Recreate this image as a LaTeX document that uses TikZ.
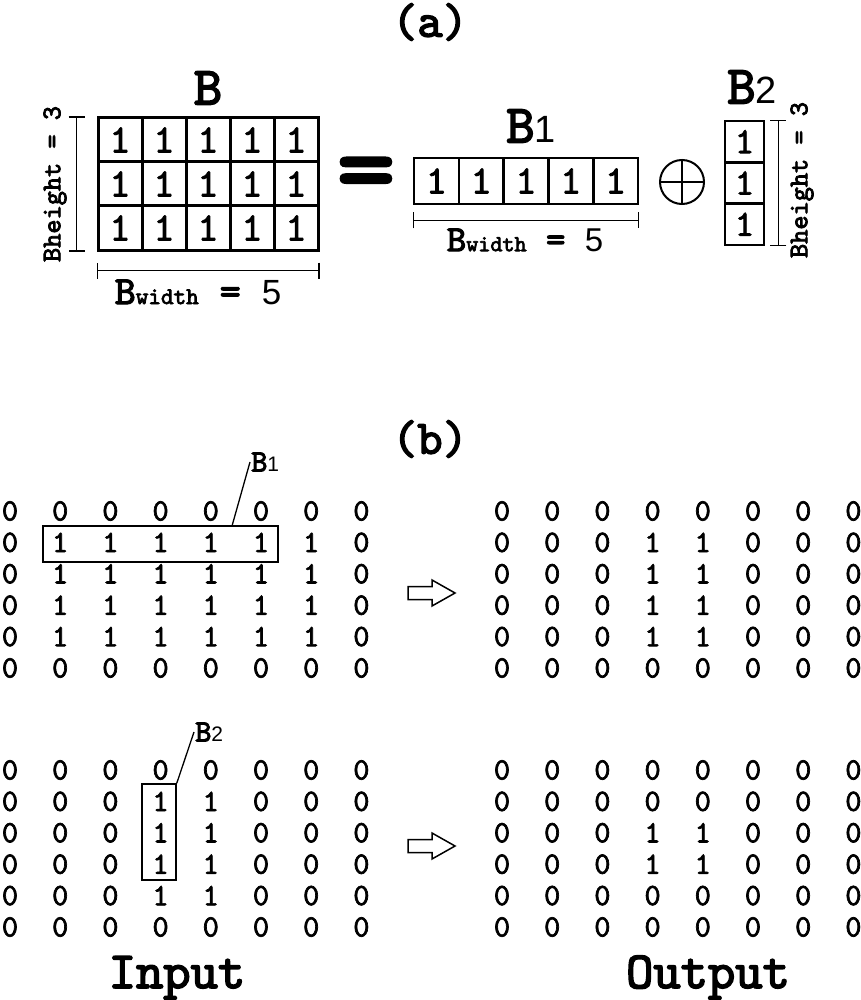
\documentclass[tikz,border=0pt]{standalone}
\usepackage{fontspec}
\setsansfont{Liberation Sans}
\newfontfamily\monob{lmmono10-regular.otf}[FakeBold=3]
\newfontfamily\monom{lmmono10-regular.otf}[FakeBold=2.2]
\usetikzlibrary{arrows.meta}

\newcommand{\fsz}[1]{\fontsize{#1}{#1}\selectfont}
% bold B with a plain digit beside it
\newcommand{\Bsub}[3]{{\monob\fsz{#1}B}{\sffamily\fsz{#2}#3}}
% B_width = 5
\newcommand{\Bwide}[4]{{\monob\fsz{#1}B}{\monob\fsz{#2}width}{\monob\fsz{#1} = }{\sffamily\fsz{#3}#4}}
% grid of bits: name, x0, y0, rows
\newcommand{\bitgrid}[4]{%
  \foreach \row [count=\rr from 0] in {#4} {
    \foreach \val [count=\cc from 0] in \row
      \node[bit] (#1-\rr-\cc) at ({#2+50.2*\cc},{#3+31.4*\rr}) {\val};
  }}

\begin{document}
\begin{tikzpicture}[x=1pt, y=-1pt,
  cellA/.style={draw, line width=3pt, inner sep=0pt, minimum width=44pt,
    minimum height=44pt, font=\monom\fsz{40}},
  bit/.style={inner sep=0pt, font=\monom\fsz{31}},
  dim/.style={line width=1.3pt, {Bar[width=16pt]}-{Bar[width=16pt]}},
  title/.style={inner sep=0pt, font=\monob\fsz{52}},
  pick/.style={draw, line width=1.5pt, inner sep=0pt},
  lead/.style={line width=1.3pt},
  hollow/.style={draw, line width=1.5pt, fill=white},
]
\useasboundingbox (0,0) rectangle (860,1000);

% (a)
\node[title, font=\monob\fsz{48}] (ta) at (430,22) {(a)};
\node[inner sep=0pt] (lB) at (208,88) {\monob\fsz{54}B};
\foreach \r in {0,1,2}
  \foreach \c in {0,...,4}
    \node[cellA] (B-\r-\c) at ({120+44*\c},{140+44*\r}) {1};
\draw[dim] ([xshift=-20pt]B-0-0.north west) -- ([xshift=-20pt]B-2-0.south west);
\node[rotate=90, inner sep=0pt, font=\monob\fsz{27}] (hB) at (55,184) {Bheight = 3};
\draw[dim] ([yshift=-19pt]B-2-0.south west) -- ([yshift=-19pt]B-2-4.south east);
\node[inner sep=0pt] (wB) at (198,292) {\Bwide{40}{24}{35}{5}};

\node[inner sep=0pt, font=\monob\fsz{110}] (eq) at (366,181) {=};

\node[inner sep=0pt] (lB1) at (531,126) {\Bsub{54}{38}{1}};
\foreach \c in {0,...,4}
  \node[cellA, line width=2.6pt, minimum width=44.8pt, minimum height=46pt] (B1-\c) at ({436.4+44.8*\c},181) {1};
\draw[dim] ([yshift=-15pt]B1-0.south west) -- ([yshift=-15pt]B1-4.south east);
\node[inner sep=0pt] (wB1) at (525,240) {\Bwide{37}{23}{33}{5}};

\node[draw, circle, line width=2pt, minimum size=44pt, inner sep=0pt] (plus) at (682,182) {};
\draw[line width=2pt] (plus.north) -- (plus.south);
\draw[line width=2pt] (plus.west) -- (plus.east);

\node[inner sep=0pt] (lB2) at (752,87) {\Bsub{54}{38}{2}};
\foreach \r in {0,1,2}
  \node[cellA, line width=2.6pt, minimum width=39pt, minimum height=41.3pt, font=\monom\fsz{37}] (B2-\r) at (744.5,{141.7+41.3*\r}) {1};
\draw[dim] ([xshift=13pt]B2-0.north east) -- ([xshift=13pt]B2-2.south east);
\node[rotate=90, inner sep=0pt, font=\monob\fsz{27}] (hB2) at (802,180) {Bheight = 3};

% (b)
\node[title, font=\monob\fsz{48}] (tb) at (430,439) {(b)};
\bitgrid{inA}{10}{511}{{0,0,0,0,0,0,0,0},{0,1,1,1,1,1,1,0},{0,1,1,1,1,1,1,0},{0,1,1,1,1,1,1,0},{0,1,1,1,1,1,1,0},{0,0,0,0,0,0,0,0}}
\bitgrid{outA}{502}{511}{{0,0,0,0,0,0,0,0},{0,0,0,1,1,0,0,0},{0,0,0,1,1,0,0,0},{0,0,0,1,1,0,0,0},{0,0,0,1,1,0,0,0},{0,0,0,0,0,0,0,0}}
\bitgrid{inB}{10}{770}{{0,0,0,0,0,0,0,0},{0,0,0,1,1,0,0,0},{0,0,0,1,1,0,0,0},{0,0,0,1,1,0,0,0},{0,0,0,1,1,0,0,0},{0,0,0,0,0,0,0,0}}
\bitgrid{outB}{502}{770}{{0,0,0,0,0,0,0,0},{0,0,0,0,0,0,0,0},{0,0,0,1,1,0,0,0},{0,0,0,1,1,0,0,0},{0,0,0,0,0,0,0,0},{0,0,0,0,0,0,0,0}}

\node[pick, minimum width=235pt, minimum height=36pt] (b1box) at (160.5,544) {};
\coordinate (b1foot) at (232,526);
\node[anchor=west, inner sep=1pt] (lb1) at (250,462) {\Bsub{31}{21}{1}};
\draw[lead] (b1foot) -- (lb1.west);

\node[pick, minimum width=34pt, minimum height=96pt] (b2box) at (159,832) {};
\node[anchor=west, inner sep=1pt] (lb2) at (194,732) {\Bsub{31}{21}{2}};
\draw[lead] (b2box.north east) -- (lb2.west);

\foreach \ay in {593,846}
  \draw[hollow] (408,{\ay-6.5}) -- (432,{\ay-6.5}) -- (432,{\ay-13}) -- (455,\ay)
    -- (432,{\ay+13}) -- (432,{\ay+6.5}) -- (408,{\ay+6.5}) -- cycle;

\node[title, anchor=base] (tin) at (177,988) {Input};
\node[title, anchor=base] (tout) at (708,988) {Output};
\end{tikzpicture}
\end{document}
